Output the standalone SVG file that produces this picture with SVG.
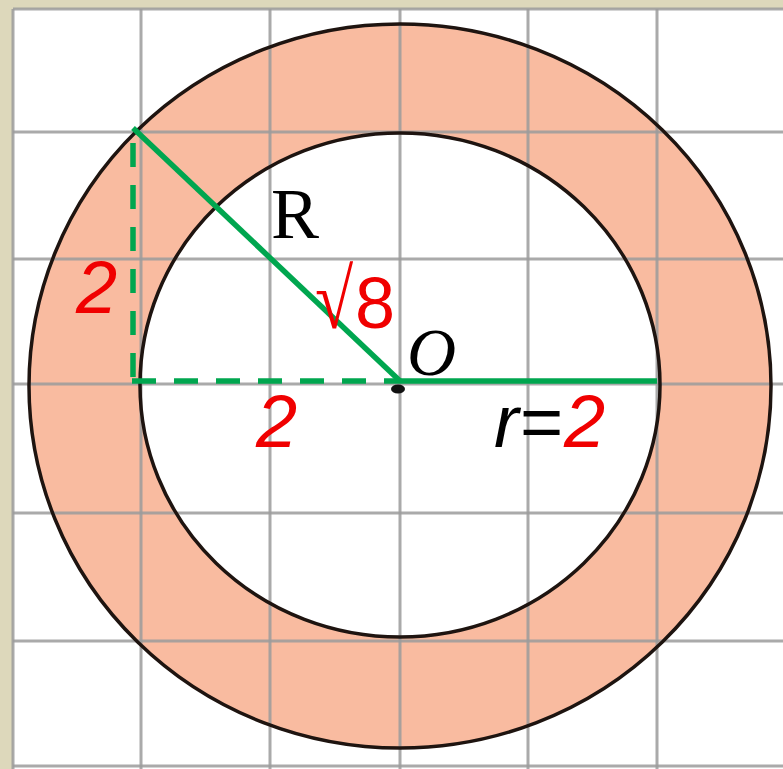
<svg xmlns="http://www.w3.org/2000/svg" width="783" height="769" viewBox="0 0 783 769">
<style>
.grid{stroke:#9c9c9c;stroke-width:3;opacity:0.85}
.circ{fill:none;stroke:#1e1410;stroke-width:3.5}
.g{stroke:#00a64f;stroke-width:5.5;fill:none}
.gd{stroke:#00a64f;stroke-width:5.5;fill:none;stroke-dasharray:24 18}
.red{fill:#f00000;font-family:"Liberation Sans",Arial,sans-serif}
.blk{fill:#000;font-family:"Liberation Serif","Times New Roman",serif}
.sans{font-family:"Liberation Sans",Arial,sans-serif}
</style>
<rect x="0" y="0" width="783" height="769" fill="#ddd8bb"/>
<rect x="13" y="9" width="775" height="760" fill="#ffffff"/>
<g id="ring">
<path d="M29,386 a371,362 0 1,0 742,0 a371,362 0 1,0 -742,0 Z M140,385 a260,252 0 1,0 520,0 a260,252 0 1,0 -520,0 Z" fill="#f9bba0" fill-rule="evenodd"/>
</g>
<g id="grid">
<line class="grid" x1="13" y1="9" x2="13" y2="769"/>
<line class="grid" x1="141" y1="9" x2="141" y2="769"/>
<line class="grid" x1="270" y1="9" x2="270" y2="769"/>
<line class="grid" x1="400" y1="9" x2="400" y2="769"/>
<line class="grid" x1="528" y1="9" x2="528" y2="769"/>
<line class="grid" x1="657" y1="9" x2="657" y2="769"/>
<line class="grid" x1="13" y1="9" x2="783" y2="9"/>
<line class="grid" x1="13" y1="132" x2="783" y2="132"/>
<line class="grid" x1="13" y1="259" x2="783" y2="259"/>
<line class="grid" x1="13" y1="384" x2="783" y2="384"/>
<line class="grid" x1="13" y1="513" x2="783" y2="513"/>
<line class="grid" x1="13" y1="641" x2="783" y2="641"/>
<line class="grid" x1="13" y1="766" x2="783" y2="766"/>
</g>
<g id="circles">
<ellipse class="circ" cx="400" cy="386" rx="371" ry="362"/>
<ellipse class="circ" cx="400" cy="385" rx="260" ry="252"/>
</g>
<g id="connectors">
<line class="g" x1="133" y1="128" x2="400" y2="381"/>
<line class="g" x1="400" y1="381" x2="657" y2="381"/>
<line class="gd" x1="133" y1="143" x2="133" y2="381"/>
<line class="gd" x1="132" y1="381" x2="400" y2="381"/>
</g>
<g id="O">
<ellipse cx="398" cy="389" rx="7" ry="4.5" fill="#111"/>
<text class="blk" x="407" y="375" font-size="68" font-style="italic">O</text>
</g>
<g id="labels">
<text class="blk" x="271" y="238" font-size="72">R</text>
<text class="red" transform="translate(315,328) scale(1.2,1.45)" x="0" y="0" font-size="58" style="font-family:'Liberation Serif',serif">√</text>
<text class="red" x="355" y="328" font-size="72">8</text>
<text class="red" x="76" y="313" font-size="74" font-style="italic">2</text>
<text class="red" x="256" y="447" font-size="74" font-style="italic">2</text>
<text class="sans" x="494" y="447" font-size="74" font-style="italic" fill="#000">r</text>
<text class="sans" x="520" y="447" font-size="74" fill="#000">=</text>
<text class="red" x="564" y="447" font-size="74" font-style="italic">2</text>
</g>
</svg>
